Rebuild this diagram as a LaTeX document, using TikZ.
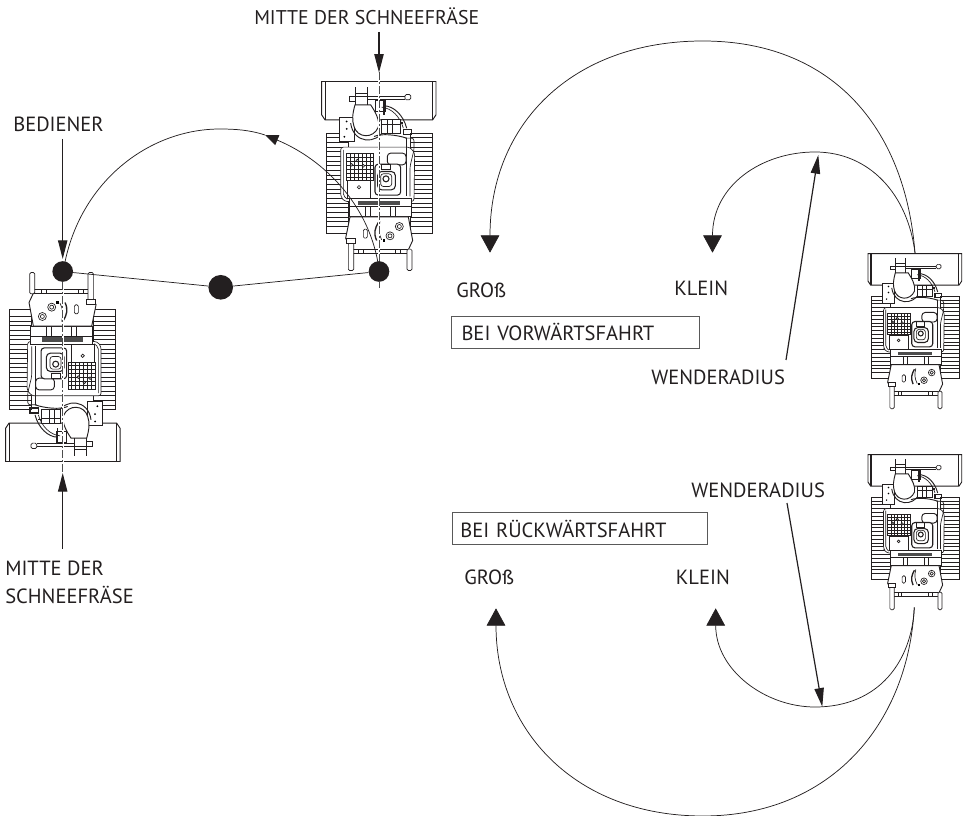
\documentclass[tikz,border=0pt]{standalone}
\usepackage{fontspec}
\setmainfont{PT Sans}
\usetikzlibrary{arrows.meta}
\definecolor{inkblack}{HTML}{231F20}
\tikzset{
  pointer/.style={draw=inkblack, line width=0.9pt, -{Triangle[length=14pt,width=7pt]}},
  bigpointer/.style={draw=inkblack, line width=0.55pt, -{Triangle[length=13pt,width=14pt]}},
  swing/.style={draw=inkblack, line width=0.55pt},
  blackdot/.style={circle, fill=inkblack, inner sep=0pt, minimum size=#1},
  caption/.style={text=inkblack, inner sep=0pt, anchor=west, font=\fontsize{15.4}{20.5}\selectfont},
  modebox/.style={draw=black!65, line width=0.7pt, inner sep=0pt, anchor=north west, align=left,
    text=inkblack, font=\fontsize{15.4}{18}\selectfont},
  blower/.pic={
    \begin{scope}[scale=1/3, shift={(-207,-605)}, line width=0.5pt, draw=inkblack]
    % Tracks
    \foreach \xa/\xb in {48/115, 300/368} {
      \draw[fill=white] (\xa,190) rectangle (\xb,490);
      \foreach \y in {204,218,...,478} \draw (\xa,\y) -- (\xb,\y);
    }
    % Blade
    \draw[fill=white, line width=0.7pt] (35,35) -- (378,35) -- (378,135) -- (368,150) -- (45,150) -- (35,135) -- cycle;
    \draw[line width=0.9pt] (46,35) -- (46,150);
    \draw (367,35) -- (367,150);
    % Engine frame
    \draw[fill=white, rounded corners=2pt] (92,232) -- (300,232) -- (314,250) -- (312,395) -- (104,395) -- (92,380) -- cycle;
    \draw[rounded corners=1.5pt] (100,240) -- (100,378) -- (112,388);
    \draw[rounded corners=2pt] (285,205) -- (312,205) -- (312,240) -- (300,290) -- (300,380);
    \draw[rounded corners=2pt] (290,205) -- (290,380);
    % Chute plate
    \draw[fill=white] (88,142) -- (132,142) -- (132,215) -- (88,215) -- cycle;
    \foreach \px/\py in {110/155, 110/177, 103/201} \fill (\px,\py) circle (3);
    % Chute
    \draw[fill=white, line width=0.7pt] (135,105) .. controls (128,130) and (125,150) .. (132,170)
      .. controls (142,205) and (190,208) .. (205,172) .. controls (210,150) and (195,125) .. (182,105) -- cycle;
    \draw[line width=0.7pt] (122,160) .. controls (130,222) and (200,225) .. (222,180);
    \draw[line width=0.7pt] (135,52) -- (135,105) (172,52) -- (172,105) (135,72) -- (172,72) (135,80) -- (180,80);
    % Cross bar
    \draw[fill=white] (118,80) rectangle (135,94);
    \draw[fill=white, rounded corners=1pt] (285,74) rectangle (302,90);
    \draw[line width=0.7pt] (172,80) -- (285,80) (172,88) -- (285,88);
    % Hinge and belt cover
    \draw[fill=white] (195,92) rectangle (225,125);
    \draw[line width=1pt] (222,92) -- (222,135);
    \draw[line width=0.7pt] (222,108) .. controls (250,108) and (280,135) .. (290,175);
    \draw (215,112) .. controls (245,115) and (270,140) .. (280,175);
    % Gear box
    \draw[fill=white] (215,150) rectangle (270,192);
    \draw (232,150) -- (232,192) (248,150) -- (248,192) (215,165) -- (270,165);
    \draw[line width=1pt] (270,160) -- (280,160) (280,180) rectangle (305,195);
    \draw[line width=0.7pt] (192,200) .. controls (215,190) and (260,195) .. (290,205);
    % Air filter grid
    \draw[fill=white, line width=0.7pt] (108,252) rectangle (190,332);
    \foreach \gx in {120,132,...,180} \draw (\gx,252) -- (\gx,332);
    \foreach \gy in {264,276,...,324} \draw (108,\gy) -- (190,\gy);
    \draw[fill=white] (112,332) rectangle (182,385);
    \draw (147,352) circle (5);
    \foreach \px/\py in {142/272, 160/288, 125/285} \draw[fill=white] (\px,\py) circle (4);
    % Fuel tank
    \draw[fill=white, rounded corners=2.5pt, line width=0.7pt] (232,250) rectangle (288,285);
    % Engine block
    \draw[fill=white, rounded corners=2.5pt, line width=0.8pt] (195,283) rectangle (272,376);
    \draw[fill=white, rounded corners=3pt, line width=0.8pt] (203,305) rectangle (256,360);
    \draw (213,284) rectangle (240,300);
    \draw[rounded corners=2pt] (212,312) rectangle (245,350);
    \draw[line width=0.8pt] (228,327) circle (9);
    % Band below the engine
    \draw[fill=white] (118,385) rectangle (304,440);
    \fill[black!70] (145,393) rectangle (270,407);
    \draw (120,410) -- (302,410);
    \foreach \vx in {165,180,240,255} \draw (\vx,410) -- (\vx,440);
    % Control panel
    \draw[fill=white, line width=0.7pt] (120,441) -- (295,441) -- (308,512) -- (295,540) -- (125,540) -- (107,505) -- cycle;
    \draw[rounded corners=1pt] (160,478) rectangle (172,505);
    \draw[line width=1pt] (205,458) .. controls (195,475) and (190,490) .. (200,512);
    \draw (210,455) .. controls (205,475) and (205,490) .. (215,510);
    \draw[fill=white] (268,470) circle (12);
    \draw (268,470) circle (6);
    \draw[fill=white] (240,498) circle (12);
    \draw (240,498) circle (6);
    \fill (218,508) rectangle (226,516);
    % Handle bar and grips
    \draw[fill=white] (125,540) rectangle (295,552);
    \foreach \sx in {152,264} \draw[fill=white, line width=0.7pt] (\sx-7,540) rectangle (\sx+7,552);
    \draw[fill=white, rounded corners=1pt] (115,512) rectangle (131,602);
    \draw[fill=white, line width=0.8pt] (110,505) rectangle (136,520);
    \draw[fill=white, rounded corners=1pt] (291,538) rectangle (306,602);
    \end{scope}
  }
}
\begin{document}
\begin{tikzpicture}[x=0.75pt, y=-0.75pt]
\useasboundingbox (0,0) rectangle (968,816);

% Machines
\pic at (379,271.5) {blower};
\pic[rotate=180] at (62.7,271.5) {blower};
\pic[scale=0.82] at (915,409.5) {blower};
\pic[scale=0.82] at (915,610.5) {blower};

% Centre lines
\foreach \ya/\yb/\xc in {72/288/379, 282/473/62.7} {
  \draw[white, line width=1.3pt] (\xc,\ya) -- (\xc,\yb);
  \draw[black!70, line width=0.4pt, dash pattern=on 6pt off 1.5pt on 1.5pt off 1.5pt] (\xc,\ya) -- (\xc,\yb);
}

% Pivot points and the line through them
\node[blackdot=15.5pt] (operatorDot) at (62.7,271.5) {};
\node[blackdot=18.5pt] (middleDot) at (220.7,287.3) {};
\node[blackdot=15.5pt] (centerDot) at (379,271.5) {};
\draw[swing] (operatorDot) -- (middleDot) -- (centerDot);

% Turn from the centre of the machine to the operator
\coordinate (turnStart) at (378,263);
\coordinate (turnTip) at (265,135);
\coordinate (turnEnd) at (65,262);
\draw[swing, -{Triangle[length=10pt,width=8pt]}] (turnStart) .. controls (368,205) and (325,160) .. (turnTip);
\draw[swing] (turnTip) .. controls (250,130) and (235,129) .. (220,129) .. controls (150,129) and (82,180) .. (turnEnd);

% Labels with arrows, left half
\node[caption, font=\fontsize{14.9}{18}\selectfont] (centerTopText) at (254,16) {MITTE DER SCHNEEFRÄSE};
\coordinate (centerTopFrom) at (379,32);
\coordinate (centerTopTip) at (379,72.7);
\draw[pointer] (centerTopFrom) -- (centerTopTip);
\node[caption] (operatorText) at (13,124) {BEDIENER};
\coordinate (operatorFrom) at (62.7,139);
\coordinate (operatorTip) at (62.7,259);
\draw[pointer] (operatorFrom) -- (operatorTip);
\node[caption, align=left] (centerLowText) at (5,582.5) {MITTE DER\\SCHNEEFRÄSE};
\coordinate (centerLowFrom) at (62.7,549);
\coordinate (centerLowTip) at (62.7,473);
\draw[pointer] (centerLowFrom) -- (centerLowTip);

% Turning forward
\coordinate (fwdStart) at (915,253);
\coordinate (fwdBigTip) at (490,252.7);
\coordinate (fwdSmallTip) at (712.5,252.7);
\draw[bigpointer] (fwdStart) .. controls (905,125) and (830,41) .. (703,41) .. controls (571,41) and (490,125) .. (fwdBigTip);
\draw[bigpointer] (fwdStart) .. controls (908,195) and (870,152) .. (815,152) .. controls (762,152) and (712.5,185) .. (fwdSmallTip);
\node[caption] (fwdBigText) at (456,290) {GROß};
\node[caption] (fwdSmallText) at (674,288) {KLEIN};
\node[modebox, minimum width=186.5pt, minimum height=23.7pt, text width=179pt] (fwdBox) at (450.7,316) {\hspace{4pt}BEI VORWÄRTSFAHRT};
\node[caption] (fwdRadiusText) at (651,377) {WENDERADIUS};
\coordinate (fwdRadiusFrom) at (786,360);
\coordinate (fwdRadiusTip) at (818.3,155);
\draw[pointer] (fwdRadiusFrom) -- (fwdRadiusTip);

% Turning backward
\coordinate (backStart) at (914.3,607.3);
\coordinate (backBigTip) at (496,608.3);
\coordinate (backSmallTip) at (715.7,608.3);
\draw[bigpointer] (backStart) .. controls (908,725) and (830,816) .. (703,816) .. controls (575,816) and (496,730) .. (backBigTip);
\draw[bigpointer] (backStart) .. controls (912,660) and (880,707) .. (815,707) .. controls (765,707) and (715.7,670) .. (backSmallTip);
\node[caption] (backBigText) at (464,577) {GROß};
\node[caption] (backSmallText) at (675.7,577.5) {KLEIN};
\node[modebox, minimum width=191.25pt, minimum height=23.7pt, text width=186pt] (backBox) at (452.3,512.3) {\hspace{3pt}BEI RÜCKWÄRTSFAHRT};
\node[caption] (backRadiusText) at (691,490) {WENDERADIUS};
\coordinate (backRadiusFrom) at (787,503);
\coordinate (backRadiusTip) at (822.3,706.7);
\draw[pointer] (backRadiusFrom) -- (backRadiusTip);

\end{tikzpicture}
\end{document}
